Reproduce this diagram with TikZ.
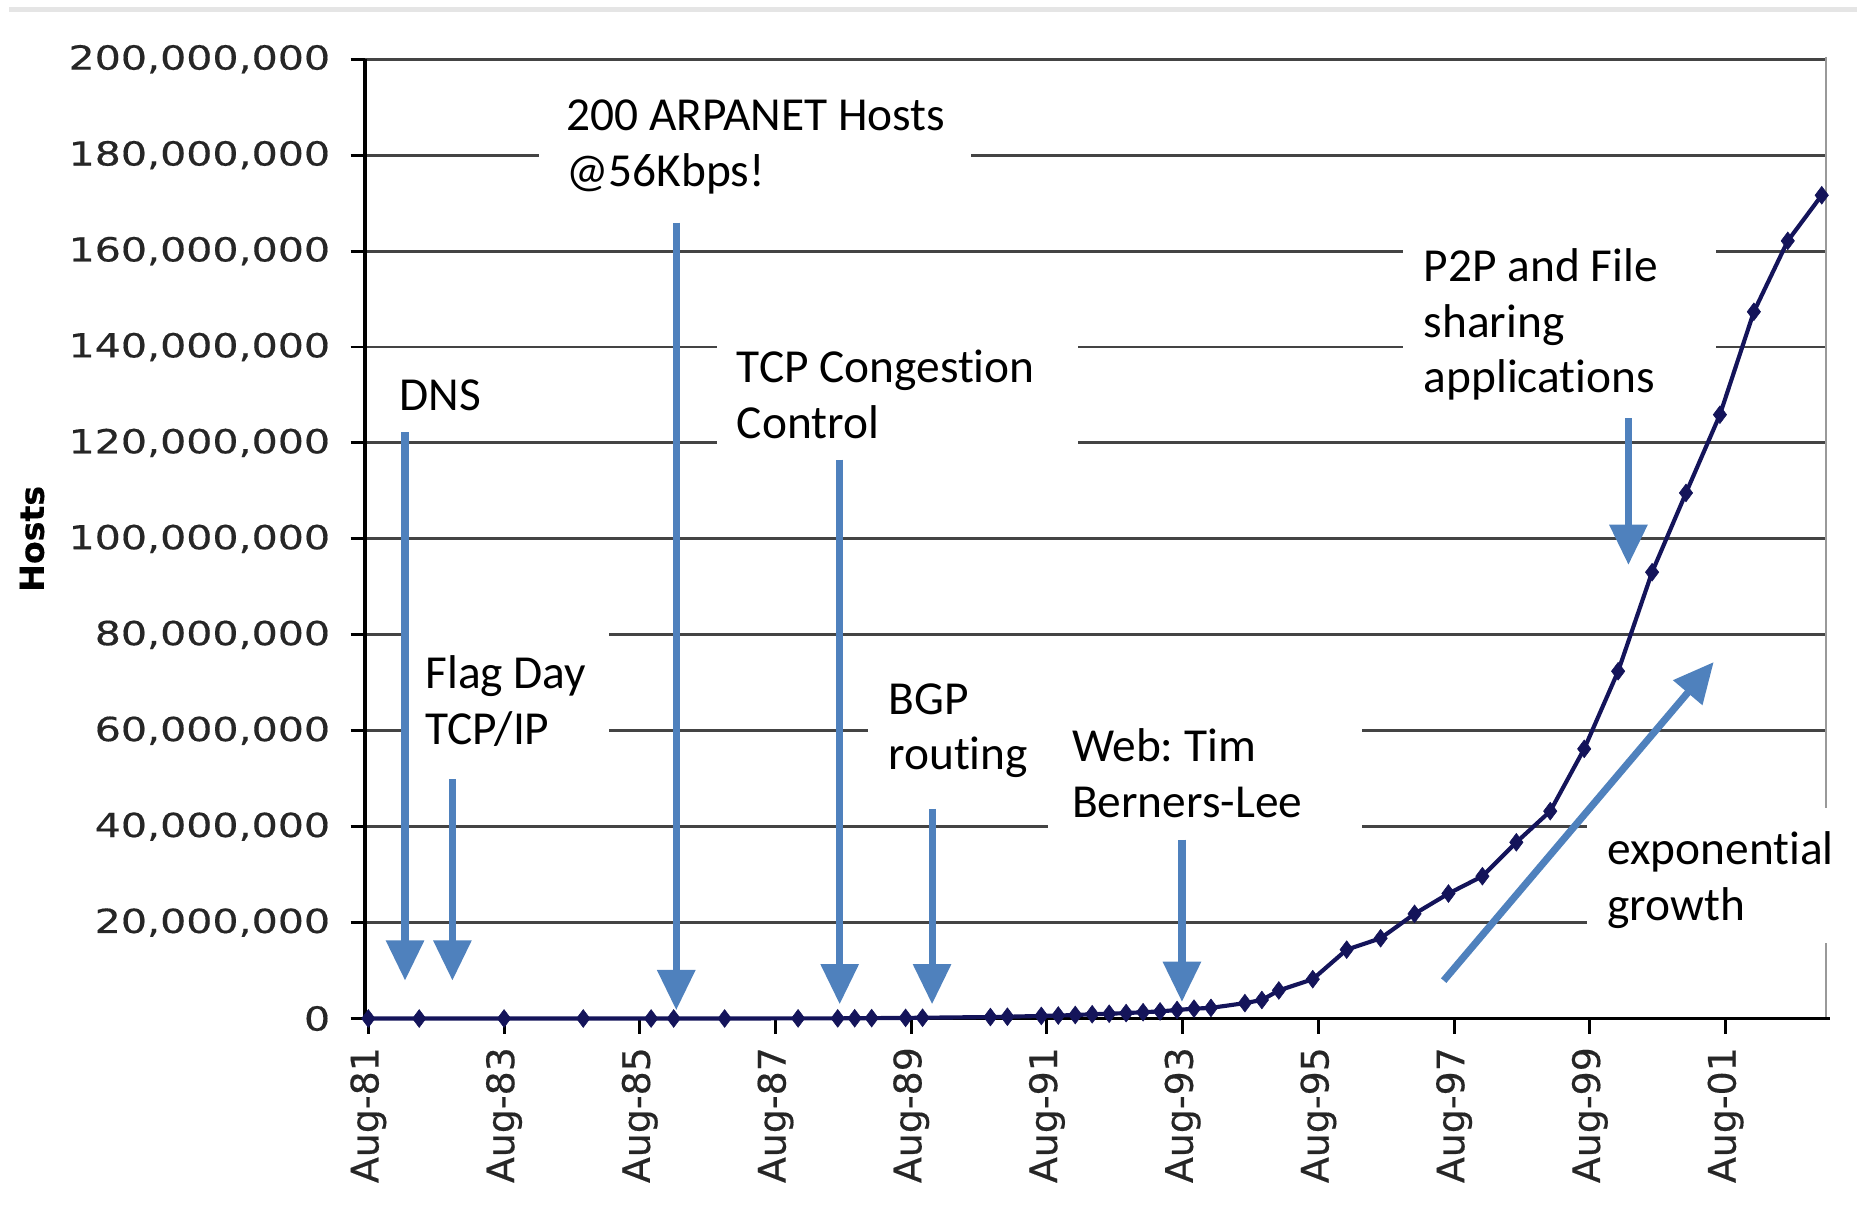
\documentclass[tikz,border=0pt]{standalone}
\usepackage{fontspec}
\setmainfont{Carlito}[Ligatures=NoCommon]
\newfontfamily\axisfam{DejaVu Sans}[FakeBold=0.4]
\newfontfamily\ytickfam{DejaVu Sans}[FakeStretch=1.24, FakeBold=0.4]
\usepackage{xcolor}
\usepackage{tikz}
\usetikzlibrary{arrows.meta, positioning, calc, plotmarks}
\frenchspacing

\definecolor{arrowblue}{HTML}{4F81BD}
\definecolor{navy}{HTML}{14145A}
\definecolor{gridgray}{HTML}{444444}

\newcommand{\notefont}{\fontsize{40}{47}\selectfont}
\newcommand{\ytickfont}{\ytickfam\fontsize{28}{32}\selectfont}
\newcommand{\xtickfont}{\axisfam\fontsize{32}{36}\selectfont}
\newcommand{\hostsfont}{\axisfam\bfseries\fontsize{28}{32}\selectfont}

\begin{document}
\begin{tikzpicture}[x=1pt, y=-1pt, >=Stealth,
  grid/.style={gridgray, line width=2.5pt},
  axisline/.style={black, line width=3pt},
  note/.style={align=left, anchor=west, inner sep=0pt, font=\notefont},
  pointer/.style={arrowblue, line width=6pt, -{Triangle[width=31pt, length=34pt]}},
  ytick/.style={anchor=east, inner sep=0pt, font=\ytickfont, text=black!85},
  xtick/.style={anchor=east, rotate=90, inner sep=0pt, font=\xtickfont, text=black!85}]
  \useasboundingbox (0,0) rectangle (1568,1025);

  % chart frame
  \draw[black!10, line width=4pt] (8,8) -- (1568,8);
  \foreach \v in {20,40,...,200}
    \draw[grid] (308,{860-4.05*\v}) -- (1542,{860-4.05*\v});
  \draw[black!40, line width=2pt] (1542,48) -- (1542,860);

  % y axis with labels
  \foreach \v/\lab in {0/0, 20/{20,000,000}, 40/{40,000,000}, 60/{60,000,000},
      80/{80,000,000}, 100/{100,000,000}, 120/{120,000,000}, 140/{140,000,000},
      160/{160,000,000}, 180/{180,000,000}, 200/{200,000,000}}{
    \draw[axisline, line width=2.5pt] (296,{860-4.05*\v}) -- (308,{860-4.05*\v});
    \node[ytick] (y\v) at (279,{860-4.05*\v}) {\lab};
  }
  \node[rotate=90, font=\hostsfont] (hosts) at (27,455) {Hosts};

  % x axis with labels
  \foreach \yr [count=\i from 0] in {81,83,85,87,89,91,93,95,97,99,01}{
    \pgfmathsetmacro{\tx}{311+114.6*\i}
    \draw[axisline, line width=2.5pt] (\tx,860) -- (\tx,873);
    \node[xtick] (x\yr) at (\tx,884) {Aug-\yr};
  }
  \draw[axisline] (308,50) -- (308,860) -- (1545,860);

  % white boxes behind the notes
  \foreach \a/\b/\c/\d in {455/62/820/178, 345/533/514/650, 605/283/910/383,
      733/565/892/665, 885/602/1150/702, 1185/192/1449/352, 1340/682/1568/796}
    \fill[white] (\a,\b) rectangle (\c,\d);

  % host count, years after Aug-81 / millions
  \begin{scope}[shift={(311,860)}, x=57.3pt, y=4.05pt]
    \draw[navy, line width=3.5pt, mark=diamond*, mark size=7.5pt,
      mark options={fill=navy, draw=navy, line width=0.5pt}]
      plot coordinates {(0,0.0002) (0.75,0.0002) (2,0.0006) (3.167,0.001)
        (4.167,0.002) (4.5,0.0023) (5.25,0.005) (6.333,0.028) (6.917,0.033)
        (7.167,0.056) (7.417,0.08) (7.917,0.13) (8.167,0.159) (9.167,0.313)
        (9.417,0.376) (9.917,0.535) (10.167,0.617) (10.417,0.727) (10.667,0.89)
        (10.917,0.992) (11.167,1.136) (11.417,1.313) (11.667,1.486) (11.917,1.776)
        (12.167,2.056) (12.417,2.217) (12.917,3.212) (13.167,3.864) (13.417,5.846)
        (13.917,8.2) (14.417,14.352) (14.917,16.729) (15.417,21.819) (15.917,26.053)
        (16.417,29.67) (16.917,36.739) (17.417,43.23) (17.917,56.218) (18.417,72.398)
        (18.917,93.048) (19.417,109.574) (19.917,125.888) (20.417,147.345)
        (20.917,162.128) (21.417,171.638)};
  \end{scope}

  % notes
  \node[note] (dns) at (337,334) {DNS};
  \node[note] (flagday) at (359,592) {Flag Day\\TCP/IP};
  \node[note] (arpanet) at (478,124) {200 ARPANET Hosts\\@56Kbps!};
  \node[note] (tcp) at (622,333) {TCP Congestion\\Control};
  \node[note] (bgp) at (750,617) {BGP\\routing};
  \node[note] (web) at (905,653) {Web: Tim\\Berners-Lee};
  \node[note] (ptp) at (1202,274) {P2P and File\\sharing\\applications};
  \node[note] (growth) at (1357,743) {exponential\\growth};

  % pointers
  \foreach \n/\x/\a/\b in {dns/342/365/828, flagday/382/658/828, arpanet/571/188/853,
      tcp/709/388/848, bgp/787/683/848, web/998/709/846, ptp/1375/353/477}{
    \coordinate (\n tail) at (\x,\a);
    \coordinate (\n tip) at (\x,\b);
    \draw[pointer] (\n tail) -- (\n tip);
  }
  \coordinate (growth tail) at (1219,828);
  \coordinate (growth tip) at (1447,559);
  \draw[pointer] (growth tail) -- (growth tip);
\end{tikzpicture}
\end{document}
